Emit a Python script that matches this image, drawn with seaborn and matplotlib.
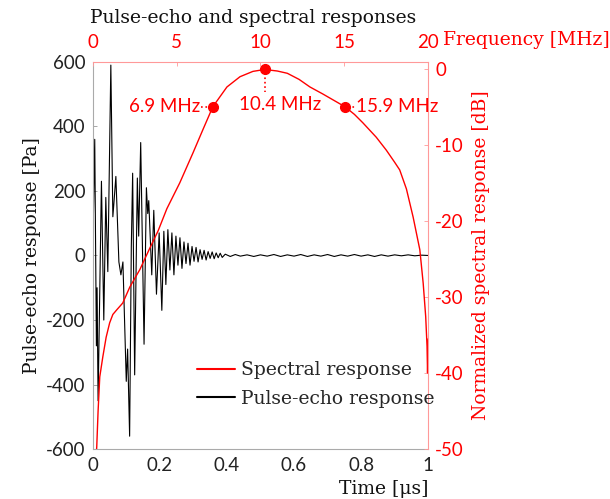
import numpy as np
import pandas as pd
import matplotlib
matplotlib.use("Agg")
import matplotlib.pyplot as plt
import seaborn as sns

# pulse-echo waveform
pulse_time = [0.000, 0.006, 0.011, 0.013, 0.016, 0.026, 0.033, 0.039, 0.045, 0.054,
              0.060, 0.063, 0.069, 0.078, 0.084, 0.090, 0.100, 0.104, 0.110, 0.115,
              0.119, 0.125, 0.133, 0.137, 0.143, 0.153, 0.160, 0.164, 0.167, 0.176,
              0.182, 0.190, 0.198, 0.206, 0.212, 0.218, 0.224, 0.230, 0.236, 0.242,
              0.248, 0.254, 0.260, 0.266, 0.272, 0.278, 0.284, 0.290, 0.296, 0.302,
              0.308, 0.314, 0.320, 0.326, 0.332, 0.338, 0.344, 0.350, 0.356, 0.362,
              0.368, 0.374, 0.380, 0.386, 0.395, 0.410, 0.425, 0.440, 0.460, 0.480,
              0.500, 0.520, 0.540, 0.560, 0.580, 0.600, 0.620, 0.640, 0.660, 0.680,
              0.700, 0.720, 0.740, 0.760, 0.780, 0.800, 0.820, 0.840, 0.860, 0.880,
              0.900, 0.920, 0.940, 0.960, 0.980, 1.000]
pulse_pa = [0, 360, -280, -100, -450, 230, -200, 180, -50, 590,
            120, 160, 245, -20, -60, -20, -390, -290, -560, 25,
            255, -370, 240, 60, 350, -275, 210, 130, 170, -60,
            140, -120, 70, -170, 75, -90, 80, -45, 70, -60,
            60, -30, 55, -40, 42, -25, 38, -30, 28, -18,
            25, -20, 18, -12, 16, -14, 12, -9, 11, -10,
            8, -7, 7, -6, 4, -3, 3, -2, 2, -3,
            2, -2, 3, -3, 2, -2, 3, -3, 2, -2,
            3, -3, 2, -2, 3, -2, 2, -3, 2, -2,
            2, -1, 2, -1, 1, 0]

# normalized spectral response
freq_mhz = [0.20, 0.24, 0.32, 0.42, 0.60, 0.80, 1.01, 1.20, 1.43, 1.79,
            2.21, 2.81, 3.40, 3.90, 4.42, 5.19, 5.97, 6.57, 7.16, 8.00,
            8.78, 9.55, 10.25, 11.00, 11.60, 12.30, 12.95, 13.70, 14.33, 15.04,
            15.60, 16.10, 16.90, 17.50, 18.00, 18.30, 18.70, 19.10, 19.50, 19.70,
            19.85, 19.93, 19.96, 20.00]
spec_db = [-51.0, -49.7, -45.0, -40.5, -37.9, -35.3, -33.4, -32.3, -31.7, -30.8,
           -28.7, -26.4, -23.6, -21.3, -18.4, -15.0, -11.1, -8.0, -5.0, -2.4,
           -1.05, -0.35, -0.1, -0.3, -0.6, -1.4, -2.4, -3.3, -4.1, -5.0,
           -6.0, -7.1, -9.0, -10.7, -12.3, -13.3, -15.8, -19.5, -23.8, -28.2,
           -32.6, -36.5, -40.0, -35.5]

# marked points on the spectrum
mark_freq = [7.16, 10.25, 15.04]
mark_db = [-5.0, -0.1, -5.0]
mark_text = ["6.9 MHz", "10.4 MHz", "15.9 MHz"]

RED = "#ff0000"
SANS = "Lato"
SERIF = "DejaVu Serif"

sns.set_theme(style="white")
plt.rcParams["font.family"] = [SANS, "DejaVu Sans"]
plt.rcParams["axes.unicode_minus"] = False

df_pulse = pd.DataFrame({"t": pulse_time, "p": pulse_pa})
df_spec = pd.DataFrame({"f": freq_mhz, "db": spec_db})

fig = plt.figure(figsize=(6.10, 4.99), dpi=100)
ax = fig.add_axes([0.152, 0.100, 0.550, 0.776])
ax2 = ax.twinx()
ax3 = ax2.twiny()

sns.lineplot(data=df_pulse, x="t", y="p", ax=ax, color="black", lw=0.8,
             sort=False, estimator=None, label="Pulse-echo response", legend=False)
sns.lineplot(data=df_spec, x="f", y="db", ax=ax3, color=RED, lw=1.0,
             sort=False, estimator=None, label="Spectral response", legend=False)
ax3.plot(mark_freq, mark_db, "o", color=RED, ms=7, zorder=5)

# dotted leaders and labels
ax3.plot([6.45, 7.0], [-5.0, -5.0], ":", color=RED, lw=1.2)
ax3.plot([10.25, 10.25], [-0.5, -3.0], ":", color=RED, lw=1.2)
ax3.plot([15.2, 15.7], [-5.0, -5.0], ":", color=RED, lw=1.2)
ax3.text(6.4, -5.0, mark_text[0], color=RED, fontsize=13.5, ha="right", va="center")
ax3.text(11.2, -4.7, mark_text[1], color=RED, fontsize=13.5, ha="center", va="center")
ax3.text(15.7, -5.0, mark_text[2], color=RED, fontsize=13.5, ha="left", va="center")

ax.set_xlim(0, 1)
ax.set_ylim(-600, 600)
ax.set_xticks([0, 0.2, 0.4, 0.6, 0.8, 1])
ax.set_xticklabels(["0", "0.2", "0.4", "0.6", "0.8", "1"])
ax.set_yticks(np.arange(-600, 601, 200))
ax3.set_xlim(0, 20)
ax3.set_xticks([0, 5, 10, 15, 20])
ax2.set_ylim(-50, 0.9)
ax2.set_yticks([0, -10, -20, -30, -40, -50])

ax.tick_params(axis="x", direction="in", length=3, width=0.6, color="#999999",
               labelsize=13.5, labelcolor="#222222", pad=6)
ax.tick_params(axis="y", direction="in", length=3, width=0.6, color="#999999",
               labelsize=13.5, labelcolor="#222222", pad=5)
ax2.tick_params(axis="y", direction="in", length=3, width=0.6, color="#ff9999",
                labelsize=13.5, labelcolor=RED, pad=5)
ax3.tick_params(axis="x", direction="in", length=3, width=0.6, color="#ff9999",
                labelsize=13.5, labelcolor=RED, pad=8)

for a in (ax, ax2, ax3):
    for s in a.spines.values():
        s.set_visible(False)
ax.spines["left"].set_visible(True)
ax.spines["bottom"].set_visible(True)
ax.spines["left"].set_color("#aaaaaa")
ax.spines["bottom"].set_color("#aaaaaa")
ax3.spines["top"].set_visible(True)
ax3.spines["right"].set_visible(True)
ax3.spines["top"].set_color("#ff9999")
ax3.spines["right"].set_color("#ff9999")
for a in (ax, ax3):
    for s in a.spines.values():
        s.set_linewidth(0.8)

ax.set_xlabel("")
ax.set_ylabel("Pulse-echo response [Pa]", family=SERIF, fontsize=13.5, color="#111111", labelpad=4)
ax2.set_ylabel("Normalized spectral response [dB]", family=SERIF, fontsize=13.5, color=RED, labelpad=6)
ax3.set_xlabel("")
ax3.set_ylabel("")

fig.text(0.702, 0.002, "Time [\u03bcs]", family=SERIF, fontsize=13.5, color="#111111",
         ha="right", va="bottom")
fig.text(0.726, 0.919, "Frequency [MHz]", family=SERIF, fontsize=13.5, color=RED,
         ha="left", va="center")
fig.text(0.415, 0.963, "Pulse-echo and spectral responses", family=SERIF, fontsize=13.5,
         color="#111111", ha="center", va="center")

h1, l1 = ax3.get_legend_handles_labels()
h2, l2 = ax.get_legend_handles_labels()
leg = ax3.legend(h1[:1] + h2[:1], ["Spectral response", "Pulse-echo response"],
                 loc="center left", bbox_to_anchor=(0.262, 0.167), frameon=False,
                 prop={"family": SERIF, "size": 13.5}, handlelength=2.0,
                 handletextpad=0.3, labelspacing=0.55)
for line in leg.get_lines():
    line.set_linewidth(1.5)

fig.savefig("out.png", dpi=100)
